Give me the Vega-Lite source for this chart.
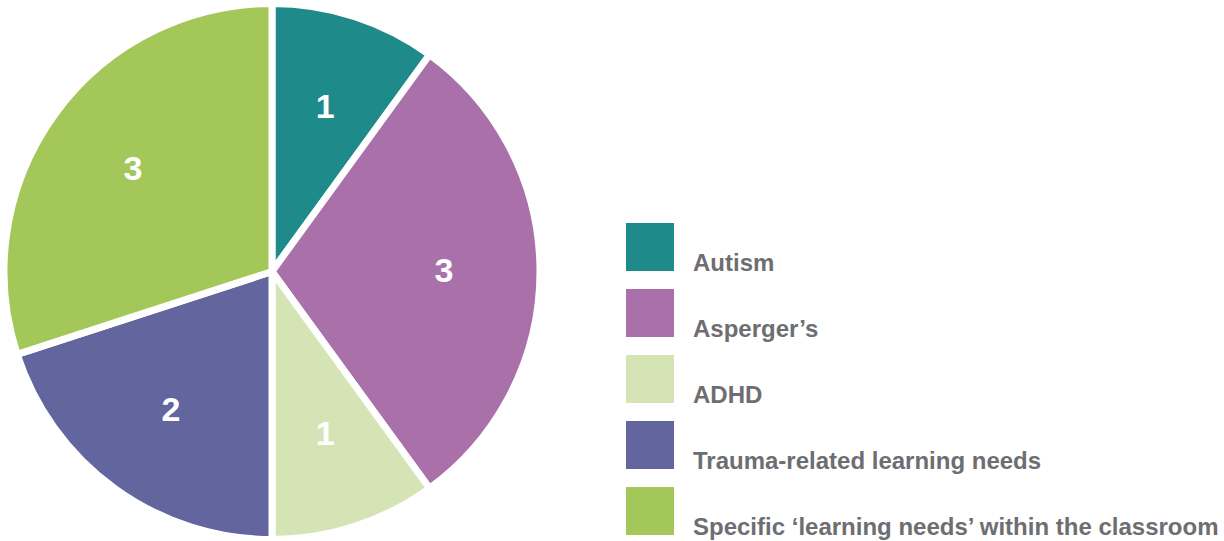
{
  "$schema": "https://vega.github.io/schema/vega-lite/v6.json",
  "padding": 0,
  "background": "white",
  "bounds": "flush",
  "spacing": 83,
  "config": {"view": {"stroke": null}},
  "data": {"values": [
    {"idx": 1, "category": "Autism", "count": 1},
    {"idx": 2, "category": "Asperger’s", "count": 3},
    {"idx": 3, "category": "ADHD", "count": 1},
    {"idx": 4, "category": "Trauma-related learning needs", "count": 2},
    {"idx": 5, "category": "Specific ‘learning needs’ within the classroom", "count": 3}
  ]},
  "hconcat": [
    {
      "width": 542,
      "height": 541,
      "encoding": {
        "theta": {"field": "count", "type": "quantitative", "stack": true},
        "order": {"field": "idx", "type": "quantitative", "sort": "ascending"},
        "color": {
          "field": "category", "type": "nominal", "legend": null,
          "scale": {
            "domain": ["Autism", "Asperger’s", "ADHD", "Trauma-related learning needs", "Specific ‘learning needs’ within the classroom"],
            "range": ["#1e8a8a", "#a970aa", "#d5e4b5", "#63659f", "#a4c75a"]
          }
        }
      },
      "layer": [
        {"mark": {"type": "arc", "outerRadius": 268, "stroke": "white", "strokeWidth": 7, "strokeJoin": "round"}},
        {
          "mark": {"type": "text", "radius": 172, "font": "Liberation Sans", "fontWeight": "bold", "fontSize": 34, "fill": "white", "baseline": "middle", "align": "center"},
          "encoding": {
            "text": {"field": "count", "type": "quantitative"},
            "color": {"value": "white"},
            "detail": {"field": "category", "type": "nominal"}
          }
        }
      ]
    },
    {
      "width": 48,
      "height": 541,
      "encoding": {
        "y": {
          "field": "idx", "type": "quantitative", "axis": null,
          "scale": {"domain": [-2.727, 5.47], "reverse": true, "zero": false, "nice": false}
        }
      },
      "layer": [
        {
          "mark": {"type": "square", "size": 2304, "opacity": 1, "filled": true, "strokeWidth": 0},
          "encoding": {
            "color": {
              "field": "category", "type": "nominal", "legend": null,
              "scale": {
                "domain": ["Autism", "Asperger’s", "ADHD", "Trauma-related learning needs", "Specific ‘learning needs’ within the classroom"],
                "range": ["#1e8a8a", "#a970aa", "#d5e4b5", "#63659f", "#a4c75a"]
              }
            }
          }
        },
        {
          "mark": {"type": "text", "align": "left", "baseline": "alphabetic", "dx": 43, "dy": 24, "font": "Liberation Sans", "fontWeight": "bold", "fontSize": 24, "fill": "#6d6e71"},
          "encoding": {"text": {"field": "category", "type": "nominal"}}
        }
      ]
    }
  ]
}
